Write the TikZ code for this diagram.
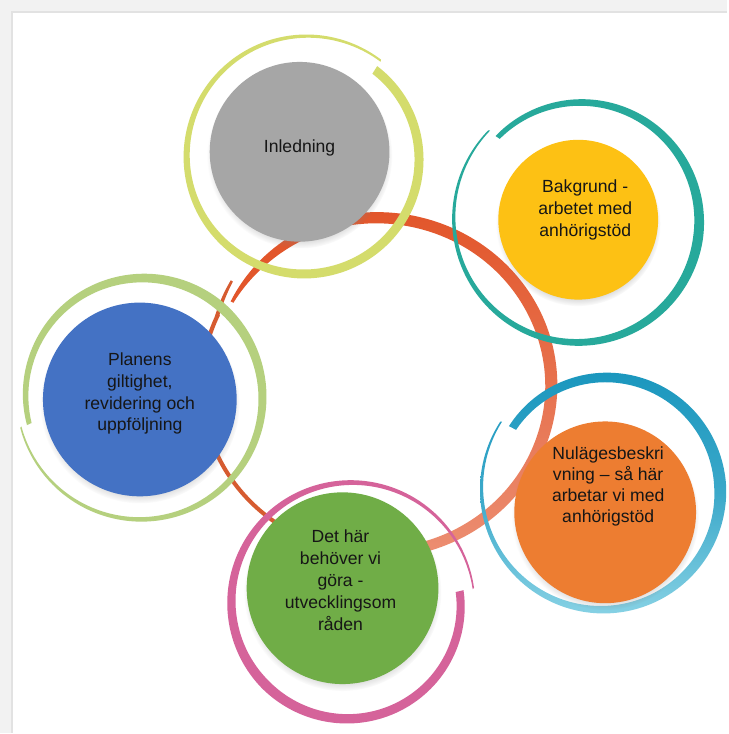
\documentclass[tikz,border=0pt]{standalone}
\usepackage{fontspec}
\setmainfont{Liberation Sans}
\usepackage{tikz}
\usetikzlibrary{shadows}

\definecolor{bandgray}{HTML}{F2F2F2}
\definecolor{bandline}{HTML}{E2E2E2}
\definecolor{ringred}{HTML}{E2562B}
\definecolor{ringsalmon}{HTML}{EC8E72}
\definecolor{ringthin}{HTML}{D65B30}
\definecolor{limering}{HTML}{D4DC6C}
\definecolor{tealring}{HTML}{27A99B}
\definecolor{bluetop}{HTML}{1B97BE}
\definecolor{bluebot}{HTML}{86D1E4}
\definecolor{pinkring}{HTML}{D5639A}
\definecolor{greenring}{HTML}{B5D07E}
\definecolor{grayfill}{HTML}{A6A6A6}
\definecolor{goldfill}{HTML}{FDC114}
\definecolor{orangefill}{HTML}{ED7D31}
\definecolor{greenfill}{HTML}{70AD47}
\definecolor{bluefill}{HTML}{4472C4}
\definecolor{txt}{HTML}{161616}

\tikzset{declare function={bwid(\wt,\wa,\wb,\wc)=ifthenelse(\wt<0.4,\wa+(\wb-\wa)*\wt/0.4,\wb+(\wc-\wb)*(\wt-0.4)/0.6);}}

% brush stroke round a centre: options, centre, start/end angle, start/end radius, widths
\newcommand{\brush}[9]{%
  \path[shift={(#2)},#1]
    plot[domain=0:1,samples=120,smooth,variable=\brt]
      ({((#5)+((#6)-(#5))*\brt+0.5*bwid(\brt,#7,#8,#9))*cos((#3)+((#4)-(#3))*\brt)},
       {-((#5)+((#6)-(#5))*\brt+0.5*bwid(\brt,#7,#8,#9))*sin((#3)+((#4)-(#3))*\brt)})
    -- plot[domain=1:0,samples=120,smooth,variable=\brt]
      ({((#5)+((#6)-(#5))*\brt-0.5*bwid(\brt,#7,#8,#9))*cos((#3)+((#4)-(#3))*\brt)},
       {-((#5)+((#6)-(#5))*\brt-0.5*bwid(\brt,#7,#8,#9))*sin((#3)+((#4)-(#3))*\brt)})
    -- cycle;}

\begin{document}
\begin{tikzpicture}[x=0.5pt,y=-0.5pt,
  disc/.style={circle,minimum size=#1,inner sep=0pt,
    circular drop shadow={shadow xshift=0pt,shadow yshift=-2pt,shadow scale=1.03,opacity=0.45}},
  lbl/.style={align=center,text=txt,font=\fontsize{8.8}{11}\selectfont}]

        \fill[bandgray] (0,0) rectangle (728,734);
        \fill[white] (12,12) rectangle (728,734);
        \draw[bandline,line width=1pt] (12,734) -- (12,12) -- (728,12);
        \useasboundingbox (0,0) rectangle (728,734);

        \coordinate (bigc) at (377,386);
        \coordinate (limec) at (306,158);
        \coordinate (tealc) at (580,220);
        \coordinate (bluec) at (605,491);
        \coordinate (pinkc) at (350,605);
        \coordinate (greenc) at (142,397);

        % the big ring behind everything
        \brush{fill=ringthin,xscale=1.042}{bigc}{268}{155}{168}{168}{4}{4}{4}
        \brush{fill=ringthin,xscale=1.042}{bigc}{156}{143}{168}{174}{4}{3.5}{2.5}
        \brush{fill=ringred,xscale=1.042}{bigc}{149}{106}{162}{168}{3}{7}{11}
        \brush{top color=ringred,middle color=ringred,bottom color=ringsalmon,xscale=1.042}{bigc}{107}{-100}{168}{168}{11}{12}{10}

        % rings round the discs
        \brush{fill=limering}{limec}{52}{-308}{112}{123}{9}{9}{2}
        \brush{fill=tealring}{tealc}{135}{-225}{116}{127}{5}{10}{1.5}
        \brush{top color=bluetop,bottom color=bluebot,middle color=bluetop!70!bluebot}{bluec}{146}{-214}{111}{124}{8}{12}{1.5}
        \brush{fill=pinkring}{pinkc}{7}{-353}{111}{125}{8}{10}{1.5}
        \brush{fill=greenring}{greenc}{194}{-166}{116}{125}{5}{10}{1.5}

        \node[disc=90pt,fill=grayfill] (inl) at (300,152) {};
        \node[disc=80pt,fill=goldfill] (bak) at (579,220) {};
        \node[disc=91pt,fill=orangefill] (nul) at (606,513) {};
        \node[disc=96pt,fill=greenfill] (det) at (343,589) {};
        \node[disc=97pt,fill=bluefill] (plan) at (140,400) {};

        \node[lbl,yshift=2pt] (inltext) at (inl) {Inledning};
        \node[lbl,xshift=3.5pt,yshift=5pt] (baktext) at (bak) {Bakgrund -\\arbetet med\\anhörigstöd};
        \node[lbl,xshift=1.5pt,yshift=13pt,font=\fontsize{8.8}{10.4}\selectfont] (nultext) at (nul) {Nulägesbeskri\\vning – så här\\arbetar vi med\\anhörigstöd};
        \node[lbl,xshift=-1pt,yshift=4pt] (dettext) at (det) {Det här\\behöver vi\\göra -\\utvecklingsom\\råden};
        \node[lbl,yshift=3pt] (plantext) at (plan) {Planens\\giltighet,\\revidering och\\uppföljning};

\end{tikzpicture}
\end{document}
